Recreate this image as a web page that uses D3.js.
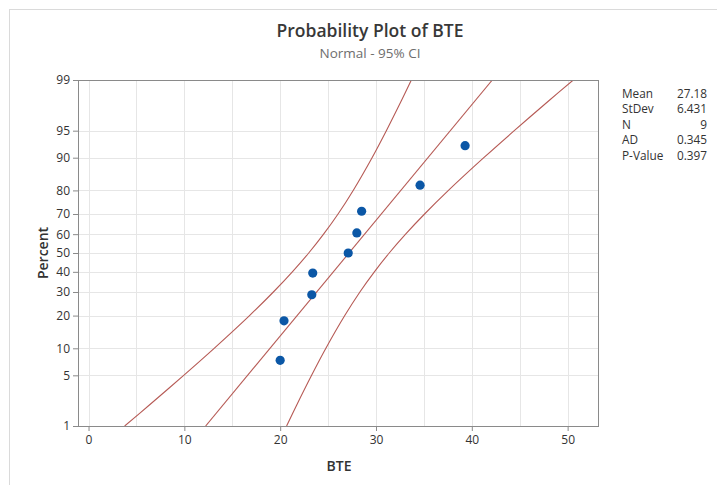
<!DOCTYPE html>
<html>
<head>
<meta charset="utf-8">
<script src="https://cdn.jsdelivr.net/npm/d3@7"></script>
<style>
  html, body { margin: 0; padding: 0; background: #fff; }
  svg { display: block; font-family: "Open Sans", "Noto Sans", sans-serif; }
</style>
</head>
<body>
<svg id="chart" width="717" height="485"></svg>
<script>
// Sample values (sorted) and their plotting positions (median ranks, %)
const bte = [20.0, 20.4, 23.3, 23.4, 27.1, 28.0, 28.5, 34.6, 39.3];
const plotPct = [7.45, 18.09, 28.72, 39.36, 50, 60.64, 71.28, 81.91, 92.55];

// Summary statistics shown beside the plot
const statNames = ["Mean", "StDev", "N", "AD", "P-Value"];
const statValues = ["27.18", "6.431", "9", "0.345", "0.397"];
const mean = 27.18, stdev = 6.431;

// 95% confidence band around the fitted line, by percent level
const bandPct   = [1, 2, 5, 10, 20, 30, 40, 50, 60, 70, 80, 90, 95, 98, 99];
const bandLower = [3.77, 6.26, 9.93, 13.11, 16.80, 19.29, 21.27, 22.98, 24.53, 26.04, 27.62, 29.59, 31.08, 32.67, 33.69];
const bandUpper = [20.67, 21.69, 23.28, 24.77, 26.74, 28.32, 29.83, 31.38, 33.09, 35.07, 37.56, 41.25, 44.43, 48.10, 50.59];

// Axis ticks
const xTicks = [0, 10, 20, 30, 40, 50];
const xGrid = [0, 5, 10, 15, 20, 25, 30, 35, 40, 45, 50];
const yTicks = [1, 5, 10, 20, 30, 40, 50, 60, 70, 80, 90, 95, 99];

// Inverse standard normal CDF (Acklam's rational approximation)
function probit(p) {
  const a = [-3.969683028665376e+01, 2.209460984245205e+02, -2.759285104469687e+02, 1.383577518672690e+02, -3.066479806614716e+01, 2.506628277459239e+00];
  const b = [-5.447609879822406e+01, 1.615858368580409e+02, -1.556989798598866e+02, 6.680131188771972e+01, -1.328068155288572e+01];
  const c = [-7.784894002430293e-03, -3.223964580411365e-01, -2.400758277161838e+00, -2.549732539343734e+00, 4.374664141464968e+00, 2.938163982698783e+00];
  const d = [7.784695709041462e-03, 3.224671290700398e-01, 2.445134137142996e+00, 3.754408661907416e+00];
  const pl = 0.02425, ph = 1 - pl;
  let q, r;
  if (p < pl) {
    q = Math.sqrt(-2 * Math.log(p));
    return (((((c[0]*q+c[1])*q+c[2])*q+c[3])*q+c[4])*q+c[5]) / ((((d[0]*q+d[1])*q+d[2])*q+d[3])*q+1);
  } else if (p <= ph) {
    q = p - 0.5; r = q * q;
    return (((((a[0]*r+a[1])*r+a[2])*r+a[3])*r+a[4])*r+a[5])*q / (((((b[0]*r+b[1])*r+b[2])*r+b[3])*r+b[4])*r+1);
  } else {
    q = Math.sqrt(-2 * Math.log(1 - p));
    return -(((((c[0]*q+c[1])*q+c[2])*q+c[3])*q+c[4])*q+c[5]) / ((((d[0]*q+d[1])*q+d[2])*q+d[3])*q+1);
  }
}
const z = pct => probit(pct / 100);

const svg = d3.select("#chart");
const plot = { left: 78, right: 598, top: 80, bottom: 426 };

// Outer graph frame
svg.append("rect")
  .attr("x", 9.5).attr("y", 9.5).attr("width", 760).attr("height", 520)
  .attr("fill", "none").attr("stroke", "#dadada");

const x = d3.scaleLinear().domain([-1.1, 53.17]).range([plot.left, plot.right]);
const y = d3.scaleLinear().domain([z(1), z(99)]).range([plot.bottom, plot.top]);
const yp = pct => y(z(pct));

// Grid
const grid = svg.append("g").attr("stroke", "#e6e6e6").attr("stroke-width", 1);
grid.selectAll("line.v").data(xGrid).join("line")
  .attr("x1", d => Math.round(x(d)) + 0.5).attr("x2", d => Math.round(x(d)) + 0.5)
  .attr("y1", plot.top).attr("y2", plot.bottom);
grid.selectAll("line.h").data(yTicks.filter(d => d > 1 && d < 99)).join("line")
  .attr("x1", plot.left).attr("x2", plot.right)
  .attr("y1", d => Math.round(yp(d)) + 0.5).attr("y2", d => Math.round(yp(d)) + 0.5);

// Clip region for the fitted line and bands
svg.append("clipPath").attr("id", "clip").append("rect")
  .attr("x", plot.left).attr("y", plot.top)
  .attr("width", plot.right - plot.left).attr("height", plot.bottom - plot.top);

const lineColor = "#b65a55";
const bandLine = d3.line().curve(d3.curveCatmullRom.alpha(0.5));
const lines = svg.append("g").attr("clip-path", "url(#clip)")
  .attr("fill", "none").attr("stroke", lineColor).attr("stroke-width", 1.1);

lines.append("path")
  .attr("d", bandLine(bandPct.map((p, i) => [x(bandLower[i]), yp(p)])));
lines.append("path")
  .attr("d", bandLine(bandPct.map((p, i) => [x(bandUpper[i]), yp(p)])));
// Fitted normal line from mean and standard deviation
const fitEnds = [1, 99];
lines.append("path")
  .attr("d", d3.line()(fitEnds.map(p => [x(mean + z(p) * stdev), yp(p)])));

// Axes
const axisColor = "#8a8a8a";
const xAxis = svg.append("g")
  .attr("transform", `translate(0,${plot.bottom})`)
  .call(d3.axisBottom(x).tickValues(xTicks).tickSize(5).tickPadding(4));
const yAxis = svg.append("g")
  .attr("transform", `translate(${plot.left},0)`)
  .call(d3.axisLeft(y).tickValues(yTicks.map(z)).tickSize(5).tickPadding(3)
    .tickFormat((d, i) => yTicks[i]));
[xAxis, yAxis].forEach(g => {
  g.select(".domain").remove();
  g.selectAll(".tick line").attr("stroke", axisColor);
  g.selectAll(".tick text").attr("fill", "#333").style("font-size", "12px")
    .style("font-family", "'Open Sans', sans-serif");
});

// Plot frame
svg.append("rect")
  .attr("x", plot.left + 0.5).attr("y", plot.top + 0.5)
  .attr("width", plot.right - plot.left).attr("height", plot.bottom - plot.top)
  .attr("fill", "none").attr("stroke", axisColor);

// Data points
svg.append("g").selectAll("circle").data(bte).join("circle")
  .attr("cx", d => x(d)).attr("cy", (d, i) => yp(plotPct[i]))
  .attr("r", 4.6).attr("fill", "#0b57a6");

// Titles
svg.append("text").attr("x", 370).attr("y", 37).attr("text-anchor", "middle")
  .attr("fill", "#383838").style("font-size", "17.5px").style("font-weight", 600)
  .text("Probability Plot of BTE");
svg.append("text").attr("x", 370).attr("y", 57.5).attr("text-anchor", "middle")
  .attr("fill", "#6e6e6e").style("font-size", "13.5px")
  .text("Normal - 95% CI");

// Axis labels
svg.append("text").attr("x", 339).attr("y", 471).attr("text-anchor", "middle")
  .attr("fill", "#333").style("font-size", "14px").style("font-weight", 600)
  .text("BTE");
svg.append("text").attr("transform", `translate(48,${(plot.top + plot.bottom) / 2}) rotate(-90)`)
  .attr("text-anchor", "middle").attr("fill", "#333")
  .style("font-size", "14px").style("font-weight", 600)
  .text("Percent");

// Statistics table
const stats = svg.append("g").style("font-size", "11.8px").attr("fill", "#333");
stats.selectAll("text.name").data(statNames).join("text")
  .attr("x", 622).attr("y", (d, i) => 98 + i * 15.4).text(d => d);
stats.selectAll("text.val").data(statValues).join("text")
  .attr("x", 707).attr("y", (d, i) => 98 + i * 15.4).attr("text-anchor", "end").text(d => d);
</script>
</body>
</html>
